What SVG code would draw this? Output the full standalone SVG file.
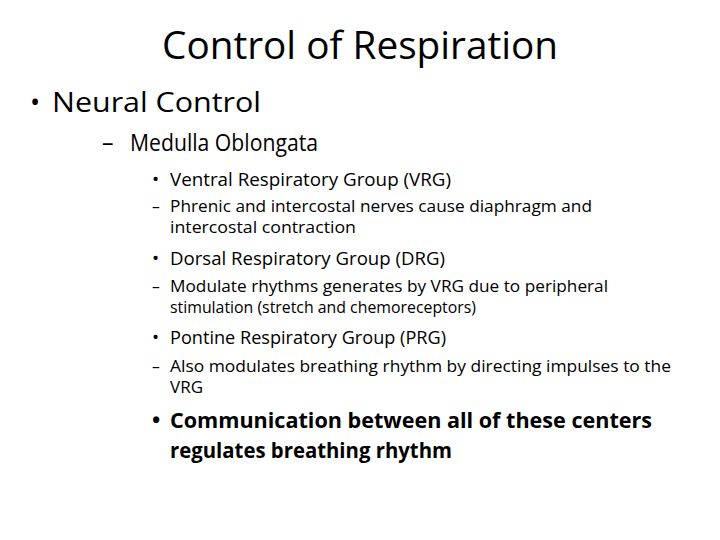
<svg xmlns="http://www.w3.org/2000/svg" width="720" height="540" viewBox="0 0 720 540">
<style>
text{font-family:"Open Sans","Liberation Sans",sans-serif;fill:#000}
.t{font-size:38px}
.l1{font-size:27px}
.l2{font-size:23px}
.l3{font-size:19px}
.l4{font-size:15.5px}
.b{font-weight:bold;font-size:22px}
</style>
<rect width="720" height="540" fill="#fff"/>
<g id="title"><text class="t" x="360" y="59" text-anchor="middle" textLength="396" lengthAdjust="spacingAndGlyphs">Control of Respiration</text></g>
<g id="neural"><text class="l1" x="30" y="112">•</text><text class="l1" x="52" y="112" textLength="209" lengthAdjust="spacingAndGlyphs">Neural Control</text></g>
<g id="medulla"><text class="l2" x="102" y="151">–</text><text class="l2" x="130" y="151" textLength="188" lengthAdjust="spacingAndGlyphs">Medulla Oblongata</text></g>
<g id="vrg"><text class="l3" x="152" y="186">•</text><text class="l3" x="170" y="186" textLength="281" lengthAdjust="spacingAndGlyphs">Ventral Respiratory Group (VRG)</text>
<text class="l4" x="152" y="212">–</text><text class="l4" x="170" y="212" textLength="422" lengthAdjust="spacingAndGlyphs">Phrenic and intercostal nerves cause diaphragm and</text>
<text class="l4" x="170" y="233" textLength="186" lengthAdjust="spacingAndGlyphs">intercostal contraction</text></g>
<g id="drg"><text class="l3" x="152" y="265">•</text><text class="l3" x="170" y="265" textLength="275" lengthAdjust="spacingAndGlyphs">Dorsal Respiratory Group (DRG)</text>
<text class="l4" x="152" y="292">–</text><text class="l4" x="170" y="292" textLength="438" lengthAdjust="spacingAndGlyphs">Modulate rhythms generates by VRG due to peripheral</text>
<text class="l4" x="170" y="313" textLength="306" lengthAdjust="spacingAndGlyphs">stimulation (stretch and chemoreceptors)</text></g>
<g id="prg"><text class="l3" x="152" y="344">•</text><text class="l3" x="170" y="344" textLength="276" lengthAdjust="spacingAndGlyphs">Pontine Respiratory Group (PRG)</text>
<text class="l4" x="152" y="372">–</text><text class="l4" x="170" y="372" textLength="501" lengthAdjust="spacingAndGlyphs">Also modulates breathing rhythm by directing impulses to the</text>
<text class="l4" x="170" y="393" textLength="33" lengthAdjust="spacingAndGlyphs">VRG</text></g>
<g id="comm"><text class="b" x="152" y="428">•</text><text class="b" x="170" y="428" textLength="482" lengthAdjust="spacingAndGlyphs">Communication between all of these centers</text>
<text class="b" x="170" y="458" textLength="282" lengthAdjust="spacingAndGlyphs">regulates breathing rhythm</text></g>
<g id="connectors"/>
</svg>
